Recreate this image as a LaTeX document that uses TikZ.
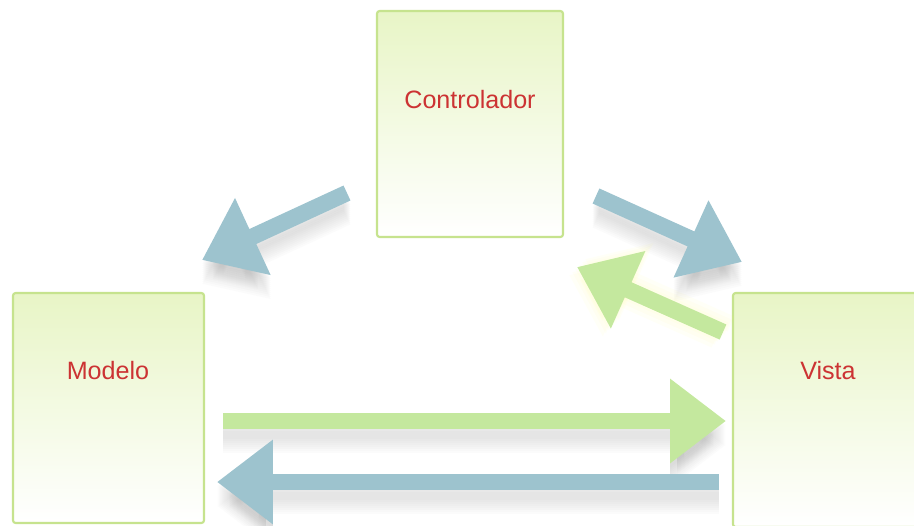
\documentclass[tikz,border=0pt]{standalone}
\usepackage{fontspec}
\setmainfont{Liberation Sans}
\usetikzlibrary{arrows.meta}
\definecolor{boxtop}{HTML}{E8F5C6}
\definecolor{boxline}{HTML}{C6E38E}
\definecolor{txtred}{HTML}{CC3333}
\definecolor{arrblue}{HTML}{9DC3CE}
\definecolor{arrgreen}{HTML}{C4E89E}
\tikzset{
  box/.style={draw=boxline, line width=1.2pt, rounded corners=1.5pt, top color=boxtop, bottom color=white},
  lbl/.style={text=txtred, font=\fontsize{14.3}{16}\selectfont, inner sep=0pt},
  fat/.style={line width=0.33cm, -{Triangle[length=1.12cm, width=1.62cm]}},
  shad/.style={fat, draw=black!60, opacity=0.022},
}
\begin{document}
\begin{tikzpicture}[x=0.02cm, y=-0.02cm]
\useasboundingbox (0,0) rectangle (914,525);
% boxes
\path[box] (377,11) rectangle (563,237);
\path[box] (13,293) rectangle (204,523);
\path[box] (733,293) rectangle (930,527);
\node[lbl] (ctrl) at (470,100) {Controlador};
\node[lbl] (mod) at (108,371) {Modelo};
\node[lbl] (vis) at (828,371) {Vista};
% arrow end points
\coordinate (a1s) at (347,193); \coordinate (a1e) at (202,260);
\coordinate (a2s) at (596,196); \coordinate (a2e) at (742,262);
\coordinate (a3s) at (723,332); \coordinate (a3e) at (577,267);
\coordinate (a4s) at (223,421); \coordinate (a4e) at (726,421);
\coordinate (a5s) at (719,482); \coordinate (a5e) at (217,482);
% soft shadows
\foreach \d in {4,6,...,24}{
  \draw[shad, transform canvas={yshift=-\d*0.02cm}] (a1s) -- (a1e);
  \draw[shad, transform canvas={yshift=-\d*0.02cm}] (a2s) -- (a2e);
  \draw[shad, transform canvas={yshift=-\d*0.02cm}] (a4s) -- (a4e);
  \draw[shad, transform canvas={yshift=-\d*0.02cm}] (a5s) -- (a5e);
}
\foreach \d in {-8,-5,-2,2,5,8}{
  \draw[fat, draw=yellow!60, opacity=0.05, transform canvas={xshift=\d*0.02cm, yshift=\d*0.02cm}] (a3s) -- (a3e);
}
% arrows
\draw[fat, draw=arrblue] (a1s) -- (a1e);
\draw[fat, draw=arrblue] (a2s) -- (a2e);
\draw[fat, draw=arrgreen] (a3s) -- (a3e);
\draw[fat, draw=arrgreen] (a4s) -- (a4e);
\draw[fat, draw=arrblue] (a5s) -- (a5e);
\end{tikzpicture}
\end{document}
